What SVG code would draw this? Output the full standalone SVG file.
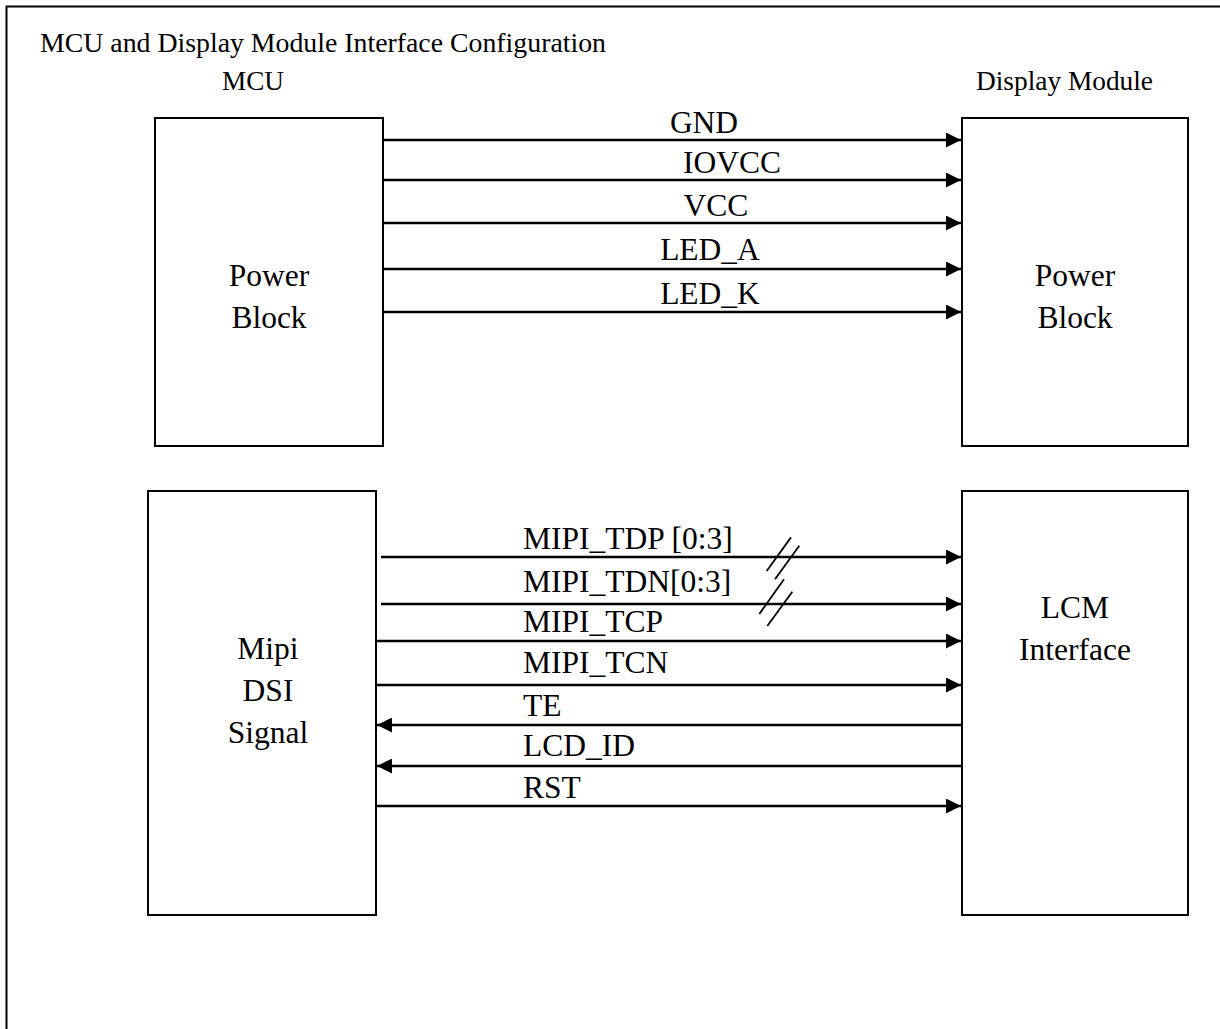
<svg xmlns="http://www.w3.org/2000/svg" width="1220" height="1029" viewBox="0 0 1220 1029">
<style>
text{font-family:"Liberation Serif","Times New Roman",serif;fill:#000}
.t26{font-size:27px}
.t30{font-size:31.5px}
.box{fill:#fff;stroke:#000;stroke-width:2}
.wire{stroke:#000;stroke-width:2.5;fill:none}
.slash{stroke:#000;stroke-width:1.8;fill:none}
</style>
<defs>
<marker id="arr" markerUnits="userSpaceOnUse" markerWidth="16" markerHeight="15" refX="15" refY="7.5" orient="auto">
<path d="M0,0 L15,7.5 L0,15 z" fill="#000"/>
</marker>
</defs>
<rect width="1220" height="1029" fill="#fff"/>
<path d="M6.5,1029 V6.5 H1220" fill="none" stroke="#000" stroke-width="2"/>
<text class="t26" x="40" y="52" textLength="566" lengthAdjust="spacingAndGlyphs">MCU and Display Module Interface Configuration</text>
<text class="t26" x="222" y="90" textLength="62" lengthAdjust="spacingAndGlyphs">MCU</text>
<text class="t26" x="976" y="90" textLength="177" lengthAdjust="spacingAndGlyphs">Display  Module</text>

<g id="mcu-power">
<rect class="box" x="155" y="118" width="228" height="328"/>
<text class="t30" x="269" y="286" text-anchor="middle">Power</text>
<text class="t30" x="269" y="328" text-anchor="middle">Block</text>
</g>
<g id="disp-power">
<rect class="box" x="962" y="118" width="226" height="328"/>
<text class="t30" x="1075" y="286" text-anchor="middle">Power</text>
<text class="t30" x="1075" y="328" text-anchor="middle">Block</text>
</g>
<g id="mipi-dsi">
<rect class="box" x="148" y="491" width="228" height="424"/>
<text class="t30" x="268" y="659" text-anchor="middle">Mipi</text>
<text class="t30" x="268" y="701" text-anchor="middle">DSI</text>
<text class="t30" x="268" y="743" text-anchor="middle">Signal</text>
</g>
<g id="lcm-interface">
<rect class="box" x="962" y="491" width="226" height="424"/>
<text class="t30" x="1075" y="618" text-anchor="middle">LCM</text>
<text class="t30" x="1075" y="660" text-anchor="middle">Interface</text>
</g>

<g id="connectors">
<line class="wire" x1="383" y1="140" x2="961" y2="140" marker-end="url(#arr)"/>
<line class="wire" x1="383" y1="180" x2="961" y2="180" marker-end="url(#arr)"/>
<line class="wire" x1="383" y1="223" x2="961" y2="223" marker-end="url(#arr)"/>
<line class="wire" x1="383" y1="269" x2="961" y2="269" marker-end="url(#arr)"/>
<line class="wire" x1="383" y1="312" x2="961" y2="312" marker-end="url(#arr)"/>
<line class="wire" x1="381" y1="557" x2="961" y2="557" marker-end="url(#arr)"/>
<line class="wire" x1="381" y1="604" x2="961" y2="604" marker-end="url(#arr)"/>
<line class="wire" x1="376" y1="641" x2="961" y2="641" marker-end="url(#arr)"/>
<line class="wire" x1="376" y1="685" x2="961" y2="685" marker-end="url(#arr)"/>
<line class="wire" x1="962" y1="725" x2="377" y2="725" marker-end="url(#arr)"/>
<line class="wire" x1="962" y1="766" x2="377" y2="766" marker-end="url(#arr)"/>
<line class="wire" x1="376" y1="806" x2="961" y2="806" marker-end="url(#arr)"/>
<line class="slash" x1="766.7" y1="571" x2="791" y2="537.4"/>
<line class="slash" x1="775" y1="579.3" x2="799.3" y2="545.7"/>
<line class="slash" x1="759.3" y1="614" x2="784" y2="579.3"/>
<line class="slash" x1="767.3" y1="626" x2="792.3" y2="591.7"/>
</g>

<g id="labels">
<text class="t30" x="704" y="133" text-anchor="middle">GND</text>
<text class="t30" x="732" y="173" text-anchor="middle">IOVCC</text>
<text class="t30" x="716" y="216" text-anchor="middle">VCC</text>
<text class="t30" x="710" y="260" text-anchor="middle">LED_A</text>
<text class="t30" x="710" y="304" text-anchor="middle">LED_K</text>
<text class="t30" x="523" y="549">MIPI_TDP [0:3]</text>
<text class="t30" x="523" y="592">MIPI_TDN[0:3]</text>
<text class="t30" x="523" y="632">MIPI_TCP</text>
<text class="t30" x="523" y="673">MIPI_TCN</text>
<text class="t30" x="523" y="716">TE</text>
<text class="t30" x="523" y="756">LCD_ID</text>
<text class="t30" x="523" y="798">RST</text>
</g>
</svg>
